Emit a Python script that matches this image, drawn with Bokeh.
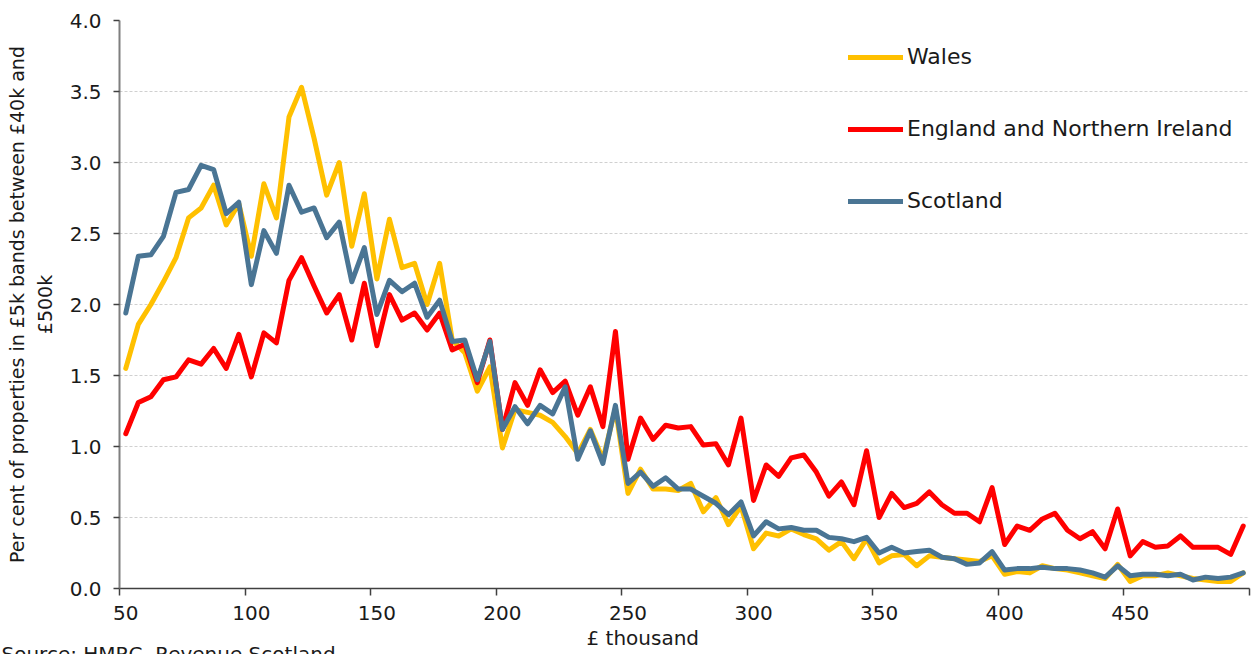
from bokeh.plotting import figure
from bokeh.models import FixedTicker, Legend, LegendItem, PrintfTickFormatter, Range1d, Title
from bokeh.embed import file_html
from bokeh.resources import INLINE

# Lower edge of each £5k band (£ thousand), 50 .. 495
band_start = list(range(50, 500, 5))

wales = [1.55, 1.86, 2.00, 2.16, 2.33, 2.61, 2.68, 2.84, 2.56, 2.71,
         2.34, 2.85, 2.61, 3.32, 3.53, 3.17, 2.77, 3.00, 2.41, 2.78,
         2.18, 2.60, 2.26, 2.29, 2.00, 2.29, 1.75, 1.66, 1.39, 1.56,
         0.99, 1.26, 1.24, 1.22, 1.17, 1.07, 0.95, 1.12, 0.91, 1.27,
         0.67, 0.84, 0.70, 0.70, 0.69, 0.74, 0.54, 0.64, 0.45, 0.58,
         0.28, 0.39, 0.37, 0.42, 0.38, 0.35, 0.27, 0.33, 0.21, 0.35,
         0.18, 0.23, 0.24, 0.16, 0.23, 0.22, 0.21, 0.20, 0.19, 0.23,
         0.10, 0.12, 0.11, 0.16, 0.14, 0.13, 0.11, 0.09, 0.07, 0.17,
         0.05, 0.09, 0.09, 0.11, 0.09, 0.07, 0.06, 0.05, 0.05, 0.11]

england = [1.09, 1.31, 1.35, 1.47, 1.49, 1.61, 1.58, 1.69, 1.55, 1.79,
           1.49, 1.80, 1.73, 2.17, 2.33, 2.13, 1.94, 2.07, 1.75, 2.15,
           1.71, 2.07, 1.89, 1.94, 1.82, 1.94, 1.68, 1.72, 1.45, 1.75,
           1.12, 1.45, 1.29, 1.54, 1.38, 1.46, 1.22, 1.42, 1.14, 1.81,
           0.91, 1.20, 1.05, 1.15, 1.13, 1.14, 1.01, 1.02, 0.87, 1.20,
           0.62, 0.87, 0.79, 0.92, 0.94, 0.82, 0.65, 0.75, 0.59, 0.97,
           0.50, 0.67, 0.57, 0.60, 0.68, 0.59, 0.53, 0.53, 0.47, 0.71,
           0.31, 0.44, 0.41, 0.49, 0.53, 0.41, 0.35, 0.40, 0.28, 0.56,
           0.23, 0.33, 0.29, 0.30, 0.37, 0.29, 0.29, 0.29, 0.24, 0.44]

scotland = [1.94, 2.34, 2.35, 2.48, 2.79, 2.81, 2.98, 2.95, 2.64, 2.72,
            2.14, 2.52, 2.36, 2.84, 2.65, 2.68, 2.47, 2.58, 2.16, 2.40,
            1.93, 2.17, 2.09, 2.15, 1.91, 2.03, 1.74, 1.75, 1.47, 1.74,
            1.12, 1.28, 1.16, 1.29, 1.23, 1.42, 0.91, 1.11, 0.88, 1.29,
            0.74, 0.82, 0.72, 0.78, 0.70, 0.70, 0.65, 0.60, 0.52, 0.61,
            0.37, 0.47, 0.42, 0.43, 0.41, 0.41, 0.36, 0.35, 0.33, 0.36,
            0.25, 0.29, 0.25, 0.26, 0.27, 0.22, 0.21, 0.17, 0.18, 0.26,
            0.13, 0.14, 0.14, 0.15, 0.14, 0.14, 0.13, 0.11, 0.08, 0.16,
            0.09, 0.10, 0.10, 0.09, 0.10, 0.06, 0.08, 0.07, 0.08, 0.11]

x_tick_values = [50, 100, 150, 200, 250, 300, 350, 400, 450]
y_tick_values = [0.0, 0.5, 1.0, 1.5, 2.0, 2.5, 3.0, 3.5, 4.0]

series_names = ["Wales", "England and Northern Ireland", "Scotland"]
series_colors = ["#FFC000", "#FF0000", "#4A7594"]

FONT = "DejaVu Sans"
TEXT_COLOR = "#1a1a1a"

p = figure(width=1253, height=654, output_backend="svg", toolbar_location=None,
           x_range=Range1d(47.5, 497.5), y_range=Range1d(0, 4),
           min_border_left=118, min_border_right=4, min_border_top=20,
           min_border_bottom=65)
p.outline_line_color = None
p.background_fill_color = "white"

renderers = []
for ys, col in zip([wales, england, scotland], series_colors):
    r = p.line(band_start, ys, line_color=col, line_width=5,
               line_join="round", line_cap="round")
    renderers.append(r)

# x axis: labels centred on bands, tick marks on band boundaries
xa = p.xaxis[0]
half = 2.5
xa.ticker = FixedTicker(ticks=x_tick_values,
                        minor_ticks=[v - half for v in x_tick_values] + [x_tick_values[-1] + 50 - half])
xa.major_tick_out = 0
xa.major_tick_in = 0
xa.minor_tick_out = 7
xa.minor_tick_in = 0
xa.minor_tick_line_color = "#404040"
xa.minor_tick_line_width = 1.5
xa.axis_line_color = "#404040"
xa.axis_line_width = 1.5
xa.major_label_text_font = FONT
xa.major_label_text_font_size = "20px"
xa.major_label_text_color = TEXT_COLOR
xa.major_label_standoff = 10

ya = p.yaxis[0]
ya.ticker = FixedTicker(ticks=y_tick_values)
ya.formatter = PrintfTickFormatter(format="%.1f")
ya.axis_line_color = "#7f7f7f"
ya.axis_line_width = 2
ya.major_tick_out = 6
ya.major_tick_in = 0
ya.major_tick_line_color = "#404040"
ya.major_tick_line_width = 1.5
ya.minor_tick_out = 0
ya.minor_tick_in = 0
ya.major_label_text_font = FONT
ya.major_label_text_font_size = "20px"
ya.major_label_text_color = TEXT_COLOR
ya.major_label_standoff = 12
ya.axis_label = "£500k"
ya.axis_label_text_font = FONT
ya.axis_label_text_font_size = "19px"
ya.axis_label_text_font_style = "normal"
ya.axis_label_text_color = TEXT_COLOR
ya.axis_label_standoff = 11

p.xgrid.visible = False
p.ygrid.ticker = FixedTicker(ticks=y_tick_values)
p.ygrid.grid_line_color = "#d0d0d0"
p.ygrid.grid_line_width = 1
p.ygrid.grid_line_dash = "3 2"

legend = Legend(items=[LegendItem(label=n, renderers=[r]) for n, r in zip(series_names, renderers)],
                location=(729, 375), orientation="vertical",
                glyph_width=55, glyph_height=20, label_height=20, spacing=47,
                padding=0, margin=0, label_standoff=4,
                label_text_font=FONT, label_text_font_size="22px",
                label_text_color=TEXT_COLOR,
                background_fill_alpha=0, border_line_alpha=0)
p.add_layout(legend)

ytitle = Title(text="Per cent of properties in £5k bands between £40k and",
               align="center", vertical_align="bottom", standoff=6,
               text_font=FONT, text_font_size="19px", text_font_style="normal",
               text_color=TEXT_COLOR)
p.add_layout(ytitle, "left")

xtitle = Title(text="£ thousand", align="left", offset=467, standoff=3,
               vertical_align="bottom",
               text_font=FONT, text_font_size="20px", text_font_style="normal",
               text_color=TEXT_COLOR)
p.add_layout(xtitle, "below")

src = Title(text="Source: HMRC, Revenue Scotland", align="left", offset=-118, standoff=-23,
            vertical_align="bottom",
            text_font=FONT, text_font_size="20px", text_font_style="normal",
            text_color=TEXT_COLOR)
p.add_layout(src, "below")

open("out.html", "w").write(file_html(p, INLINE))
